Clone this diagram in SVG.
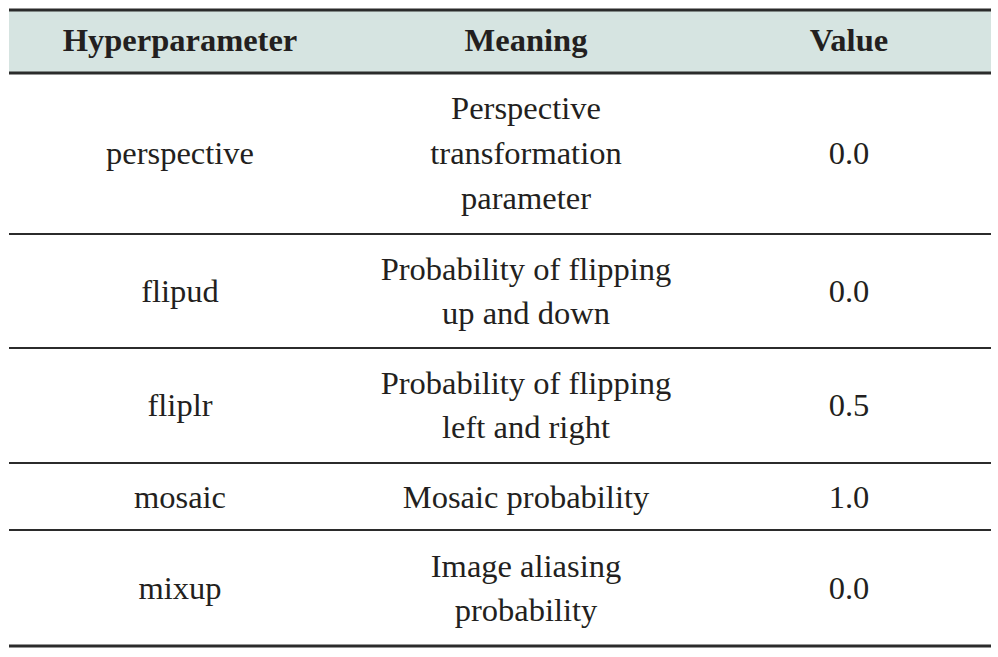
<svg xmlns="http://www.w3.org/2000/svg" width="998" height="657" viewBox="0 0 998 657">
<style>
text{font-family:"Liberation Serif","Times New Roman",serif;font-size:32.5px;fill:#231f20;text-anchor:middle}
.h{font-weight:bold}
.thick{stroke:#2b2b2b;stroke-width:3}
.thin{stroke:#2b2b2b;stroke-width:1.8}
</style>
<rect width="998" height="657" fill="#fff"/>
<rect x="9" y="10" width="982" height="63" fill="#d6e4e1"/>
<g id="lines">
<line class="thick" x1="9" y1="10" x2="991" y2="10"/>
<line class="thick" x1="9" y1="73" x2="991" y2="73"/>
<line class="thin" x1="9" y1="234" x2="991" y2="234"/>
<line class="thin" x1="9" y1="348" x2="991" y2="348"/>
<line class="thin" x1="9" y1="463" x2="991" y2="463"/>
<line class="thin" x1="9" y1="530" x2="991" y2="530"/>
<line class="thick" x1="9" y1="646" x2="991" y2="646"/>
</g>
<g id="header"><text class="h" x="180" y="51">Hyperparameter</text><text class="h" x="526" y="51">Meaning</text><text class="h" x="849" y="51">Value</text></g>
<g id="r1"><text x="180" y="164">perspective</text><text x="526" y="119">Perspective</text><text x="526" y="164">transformation</text><text x="526" y="209">parameter</text><text x="849" y="164">0.0</text></g>
<g id="r2"><text x="180" y="302">flipud</text><text x="526" y="280">Probability of flipping</text><text x="526" y="324">up and down</text><text x="849" y="302">0.0</text></g>
<g id="r3"><text x="180" y="416">fliplr</text><text x="526" y="394">Probability of flipping</text><text x="526" y="438">left and right</text><text x="849" y="416">0.5</text></g>
<g id="r4"><text x="180" y="508">mosaic</text><text x="526" y="508">Mosaic probability</text><text x="849" y="508">1.0</text></g>
<g id="r5"><text x="180" y="599">mixup</text><text x="526" y="577">Image aliasing</text><text x="526" y="621">probability</text><text x="849" y="599">0.0</text></g>
</svg>
